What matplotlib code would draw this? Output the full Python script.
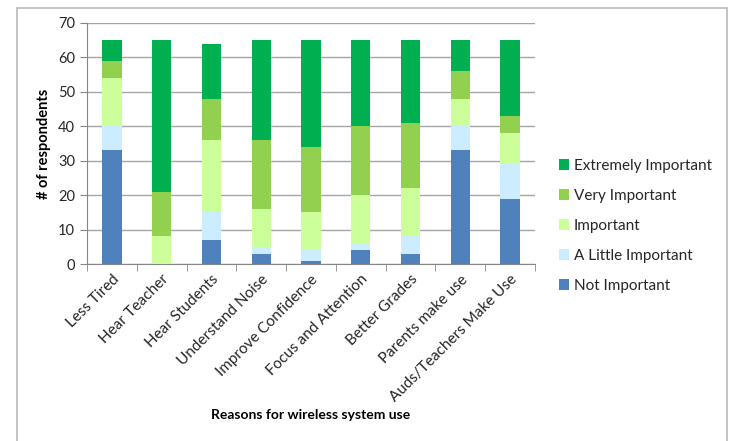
import matplotlib
matplotlib.use("Agg")
import matplotlib.pyplot as plt
from matplotlib.patches import Rectangle, Patch
import numpy as np

plt.rcParams['font.family'] = ['Lato', 'DejaVu Sans']

categories = ["Less Tired", "Hear Teacher", "Hear Students", "Understand Noise",
              "Improve Confidence", "Focus and Attention", "Better Grades",
              "Parents make use", "Auds/Teachers Make Use"]

not_important      = [33, 0, 7, 3, 1, 4, 3, 33, 19]
a_little_important = [7, 0, 8, 2, 3, 2, 5, 7, 10]
important          = [14, 8, 21, 11, 11, 14, 14, 8, 9]
very_important     = [5, 13, 12, 20, 19, 20, 19, 8, 5]
extremely_important = [6, 44, 16, 29, 31, 25, 24, 9, 22]

series = [
    ("Not Important", not_important, "#4F81BD"),
    ("A Little Important", a_little_important, "#CCECFF"),
    ("Important", important, "#CCFF99"),
    ("Very Important", very_important, "#92D050"),
    ("Extremely Important", extremely_important, "#00B050"),
]

W, H = 736, 441
fig = plt.figure(figsize=(W / 100, H / 100), dpi=100)

# outer chart frame
fig.patches.append(Rectangle((16.5 / W, -0.05), (727 - 16.5) / W, 1.0 - 8 / H + 0.05,
                             transform=fig.transFigure, fill=False,
                             edgecolor="#BFBFBF", linewidth=1.3))

ax = fig.add_axes([87 / W, 1 - 264 / H, (535 - 87) / W, (264 - 23) / H])

x = np.arange(len(categories))
bottom = np.zeros(len(categories))
handles = []
for name, vals, color in series:
    vals = np.array(vals, dtype=float)
    ax.bar(x, vals, width=0.39, bottom=bottom, color=color, zorder=3)
    bottom += vals
    handles.append(Patch(facecolor=color, label=name))

ax.set_xlim(-0.5, len(categories) - 0.5)
ax.set_ylim(0, 70)
ax.set_yticks(range(0, 71, 10))
ax.yaxis.grid(True, color="#A6A6A6", linewidth=1.0, zorder=0)
ax.set_axisbelow(True)

for side in ("top", "right"):
    ax.spines[side].set_visible(False)
ax.spines["left"].set_color("#868686")
ax.spines["bottom"].set_color("#868686")

ax.set_xticks(x)
ax.set_xticklabels(categories, rotation=45, ha="right", rotation_mode="anchor",
                   fontsize=11, color="#262626")
ax.tick_params(axis="x", length=0, pad=6)
ax.set_xticks(np.arange(-0.5, len(categories), 1.0), minor=True)
ax.tick_params(axis="x", which="minor", length=5, color="#868686", direction="out")
ax.tick_params(axis="y", length=5, color="#868686", labelsize=10.5, labelcolor="#262626")

ax.set_ylabel("# of respondents", fontsize=10.5, fontweight="bold", labelpad=5)
ax.set_xlabel("Reasons for wireless system use", fontsize=10, fontweight="bold",
              labelpad=3)

leg = fig.legend(handles=handles[::-1], loc="center left",
                 bbox_to_anchor=(545 / W, 1 - 226 / H), frameon=False,
                 fontsize=11, handlelength=0.7, handleheight=0.7,
                 handletextpad=0.3, labelspacing=1.05)
for t in leg.get_texts():
    t.set_color("#262626")

fig.savefig("out.png", dpi=100)
